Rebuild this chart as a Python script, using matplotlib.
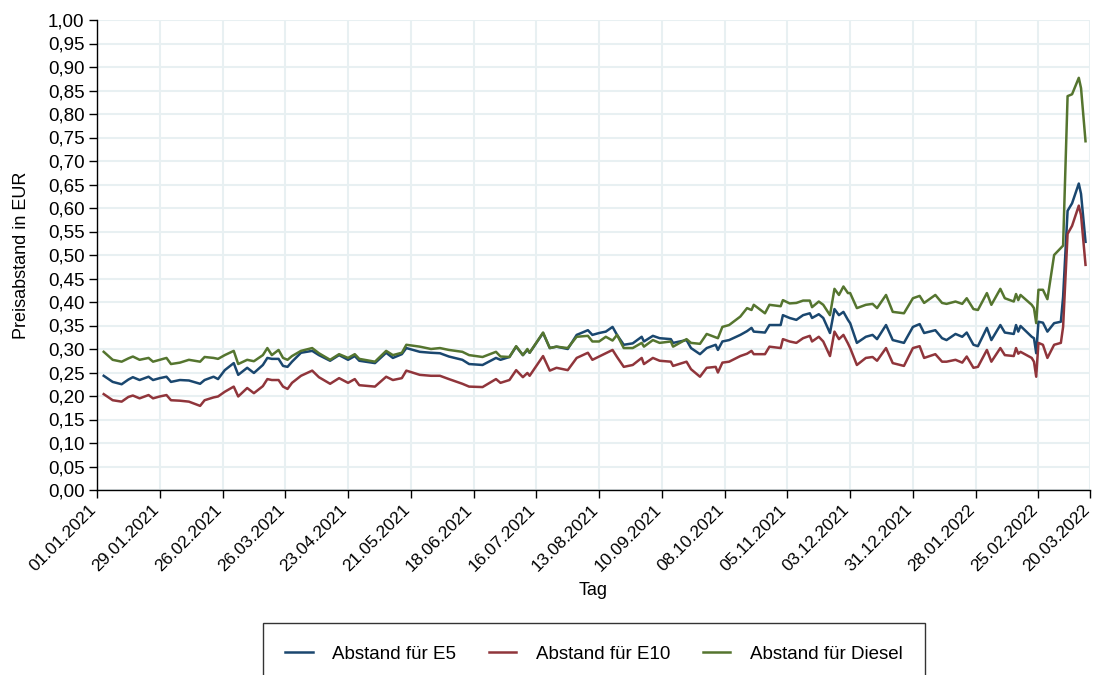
import matplotlib
matplotlib.use("Agg")
from matplotlib import pyplot as plt
import matplotlib.ticker as ticker
import pandas as pd

tage = [3, 7, 11, 14, 16, 19, 23, 25, 28, 31, 33, 37, 41, 46, 48, 52, 54, 57, 61, 63,
        67, 70, 74, 76, 78, 81, 83, 85, 87, 91, 96, 99, 104, 108, 112, 115, 117, 124, 129, 132,
        136, 138, 144, 149, 153, 157, 163, 166, 172, 178, 180, 184, 187, 190, 192, 193, 199, 202, 205, 210,
        214, 219, 221, 224, 227, 230, 232, 235, 239, 243, 244, 248, 251, 256, 257, 263, 265, 269, 272, 276,
        277, 279, 282, 287, 290, 292, 293, 298, 300, 305, 306, 309, 312, 315, 318, 319, 322, 324, 327, 329,
        331, 333, 335, 336, 339, 343, 346, 348, 352, 355, 360, 364, 367, 369, 374, 377, 379, 383, 386, 388,
        391, 393, 397, 399, 403, 405, 409, 410, 411, 412, 417, 418, 419, 420, 422, 424, 427, 430, 431, 433,
        435, 438, 439, 441]

e5 = [0.243, 0.230, 0.225, 0.235, 0.240, 0.234, 0.241, 0.234, 0.238, 0.241, 0.230, 0.234, 0.233, 0.226, 0.234, 0.241, 0.236, 0.255, 0.270, 0.245,
      0.260, 0.249, 0.266, 0.281, 0.279, 0.279, 0.264, 0.262, 0.273, 0.292, 0.296, 0.287, 0.275, 0.287, 0.277, 0.285, 0.275, 0.270, 0.292, 0.281,
      0.289, 0.302, 0.294, 0.292, 0.291, 0.284, 0.277, 0.268, 0.266, 0.281, 0.277, 0.283, 0.305, 0.287, 0.298, 0.292, 0.334, 0.302, 0.305, 0.300,
      0.330, 0.340, 0.330, 0.334, 0.337, 0.347, 0.330, 0.309, 0.312, 0.326, 0.316, 0.328, 0.323, 0.321, 0.313, 0.319, 0.302, 0.289, 0.302, 0.309,
      0.298, 0.316, 0.319, 0.330, 0.338, 0.345, 0.337, 0.335, 0.351, 0.351, 0.372, 0.366, 0.362, 0.372, 0.376, 0.366, 0.374, 0.366, 0.334, 0.385,
      0.372, 0.379, 0.362, 0.355, 0.313, 0.326, 0.330, 0.321, 0.351, 0.319, 0.313, 0.347, 0.353, 0.334, 0.340, 0.323, 0.319, 0.332, 0.326, 0.335,
      0.309, 0.306, 0.345, 0.319, 0.351, 0.335, 0.332, 0.351, 0.337, 0.349, 0.326, 0.323, 0.291, 0.358, 0.356, 0.337, 0.355, 0.358, 0.411, 0.594,
      0.610, 0.652, 0.630, 0.528]

e10 = [0.204, 0.191, 0.188, 0.198, 0.201, 0.195, 0.202, 0.195, 0.199, 0.202, 0.191, 0.190, 0.188, 0.179, 0.191, 0.197, 0.199, 0.209, 0.220, 0.199,
       0.217, 0.206, 0.221, 0.236, 0.234, 0.234, 0.220, 0.215, 0.228, 0.243, 0.254, 0.240, 0.226, 0.238, 0.228, 0.236, 0.223, 0.220, 0.241, 0.234,
       0.238, 0.254, 0.245, 0.243, 0.243, 0.236, 0.226, 0.220, 0.219, 0.236, 0.228, 0.234, 0.255, 0.240, 0.249, 0.243, 0.285, 0.254, 0.260, 0.255,
       0.281, 0.292, 0.277, 0.284, 0.291, 0.298, 0.283, 0.262, 0.266, 0.281, 0.268, 0.281, 0.275, 0.273, 0.264, 0.273, 0.257, 0.241, 0.260, 0.262,
       0.250, 0.271, 0.273, 0.285, 0.290, 0.296, 0.289, 0.289, 0.305, 0.302, 0.321, 0.316, 0.313, 0.323, 0.328, 0.316, 0.326, 0.316, 0.285, 0.337,
       0.321, 0.330, 0.312, 0.302, 0.266, 0.281, 0.283, 0.275, 0.302, 0.270, 0.264, 0.302, 0.306, 0.281, 0.289, 0.273, 0.273, 0.277, 0.271, 0.284,
       0.260, 0.262, 0.298, 0.273, 0.302, 0.287, 0.285, 0.302, 0.290, 0.294, 0.281, 0.273, 0.241, 0.313, 0.309, 0.281, 0.309, 0.313, 0.347, 0.545,
       0.562, 0.605, 0.585, 0.479]

diesel = [0.294, 0.277, 0.273, 0.280, 0.284, 0.277, 0.281, 0.273, 0.277, 0.281, 0.268, 0.271, 0.277, 0.273, 0.283, 0.281, 0.279, 0.287, 0.296, 0.268,
          0.277, 0.274, 0.287, 0.302, 0.287, 0.298, 0.281, 0.277, 0.285, 0.296, 0.302, 0.291, 0.277, 0.289, 0.281, 0.289, 0.279, 0.273, 0.296, 0.287,
          0.292, 0.309, 0.305, 0.300, 0.302, 0.298, 0.294, 0.287, 0.283, 0.294, 0.284, 0.283, 0.306, 0.287, 0.300, 0.292, 0.335, 0.302, 0.305, 0.302,
          0.326, 0.328, 0.316, 0.316, 0.326, 0.318, 0.330, 0.302, 0.302, 0.313, 0.305, 0.319, 0.313, 0.316, 0.305, 0.321, 0.313, 0.311, 0.332, 0.325,
          0.323, 0.347, 0.351, 0.369, 0.387, 0.383, 0.394, 0.376, 0.394, 0.391, 0.404, 0.397, 0.398, 0.403, 0.403, 0.389, 0.401, 0.394, 0.372, 0.428,
          0.415, 0.433, 0.419, 0.419, 0.387, 0.394, 0.396, 0.387, 0.415, 0.379, 0.376, 0.408, 0.413, 0.398, 0.415, 0.398, 0.396, 0.401, 0.396, 0.408,
          0.385, 0.383, 0.419, 0.394, 0.428, 0.408, 0.401, 0.417, 0.404, 0.415, 0.394, 0.387, 0.355, 0.426, 0.426, 0.406, 0.500, 0.515, 0.520, 0.838,
          0.842, 0.877, 0.855, 0.742]

tick_labels = ["01.01.2021", "29.01.2021", "26.02.2021", "26.03.2021", "23.04.2021", "21.05.2021",
               "18.06.2021", "16.07.2021", "13.08.2021", "10.09.2021", "08.10.2021", "05.11.2021",
               "03.12.2021", "31.12.2021", "28.01.2022", "25.02.2022", "20.03.2022"]

start = pd.Timestamp("2021-01-01")
datum = start + pd.to_timedelta(tage, unit="D")
tick_pos = pd.to_datetime(tick_labels, format="%d.%m.%Y")

plt.rcParams["font.family"] = ["Liberation Sans", "DejaVu Sans"]

fig = plt.figure(figsize=(10.93, 6.75), dpi=100)
ax = fig.add_axes([97 / 1093, 1 - 490 / 675, (1090 - 97) / 1093, 470 / 675])

ax.plot(datum, e5, color="#1a476f", lw=1.8, label="Abstand für E5")
ax.plot(datum, e10, color="#90353b", lw=1.8, label="Abstand für E10")
ax.plot(datum, diesel, color="#55752f", lw=1.8, label="Abstand für Diesel")

ax.set_xlim(tick_pos[0], tick_pos[-1])
ax.set_ylim(0, 1)
ax.set_xticks(tick_pos)
ax.set_xticklabels(tick_labels, rotation=45, ha="right", va="baseline",
                   rotation_mode="anchor", fontsize=12.5)
ax.yaxis.set_major_locator(ticker.MultipleLocator(0.05))
ax.yaxis.set_major_formatter(ticker.FuncFormatter(lambda v, p: f"{v:.2f}".replace(".", ",")))

ax.grid(True, color="#e8f0f2", lw=1.5)
ax.set_axisbelow(True)
for s in ["top", "right"]:
    ax.spines[s].set_visible(False)
for s in ["left", "bottom"]:
    ax.spines[s].set_linewidth(1.0)
ax.tick_params(direction="out", length=6, width=1.0, pad=3)
ax.tick_params(axis="y", labelsize=13.5)
ax.tick_params(axis="x", pad=9)

ax.set_xlabel("Tag", fontsize=13, labelpad=5)
ax.set_ylabel("Preisabstand in EUR", fontsize=13, labelpad=13)

fig.legend(loc="upper center", bbox_to_anchor=(594 / 1093, 1 - 623 / 675), ncol=3,
           fontsize=13.5, frameon=True, fancybox=False, edgecolor="black",
           borderaxespad=0, borderpad=1.2, handlelength=1.45, columnspacing=1.75,
           handletextpad=1.05)

fig.savefig("out.png", dpi=100)
